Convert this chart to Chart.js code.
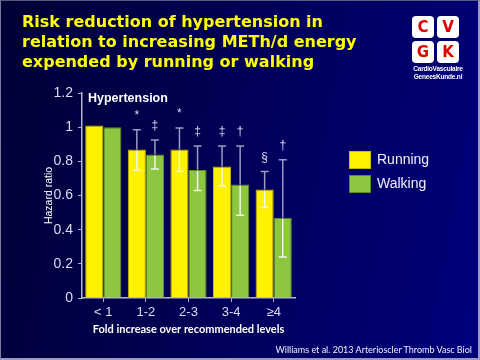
<!DOCTYPE html>
<html>
<head>
<meta charset="utf-8">
<script src="https://cdn.jsdelivr.net/npm/chart.js@4/dist/chart.umd.min.js"></script>
<style>
  html, body { margin: 0; padding: 0; width: 480px; height: 360px; overflow: hidden; }
  body { background: linear-gradient(100deg, #000036 0%, #00004e 35%, #000068 70%, #00007c 100%); position: relative; font-family: "Liberation Sans", Arial, sans-serif; }
  #frame { position: absolute; left: 0; top: 0; width: 477px; height: 357px; border-left: 1px solid #7a7aa0; border-top: 1px solid #5a5a80; border-right: 2px solid #9a9ac0; border-bottom: 2px solid #9a9ac0; box-sizing: content-box; pointer-events: none; }
  #wrap { position: absolute; left: 0; top: 0; width: 480px; height: 360px; }
  #title { position: absolute; left: 22px; top: 12px; color: #ffff00; font-family: "DejaVu Sans", Verdana, sans-serif; font-weight: bold; font-size: 16px; line-height: 20px; white-space: nowrap; }
  #logo { position: absolute; left: 412px; top: 16px; width: 50px; }
  .tile { position: absolute; width: 22px; height: 22px; background: #fff; border-radius: 4px; color: #e00000; font-family: "DejaVu Sans", Verdana, sans-serif; font-weight: bold; font-size: 15px; line-height: 22px; text-align: center; }
  #logotext { position: absolute; left: 410px; top: 65px; width: 56px; color: #fff; font-family: "Liberation Sans Narrow", "Liberation Sans", Arial, sans-serif; font-size: 6.5px; line-height: 8px; text-align: center; font-weight: bold; letter-spacing: -0.2px; }
  #legend { position: absolute; left: 349px; top: 151px; }
  .li { position: relative; height: 24px; }
  .sw { position: absolute; left: 0; top: 0; width: 20px; height: 16px; border: 1px solid; }
  .lt { position: absolute; left: 28px; top: -1px; color: #f0f0ff; font-size: 14px; line-height: 18px; white-space: nowrap; }
  #cite { position: absolute; right: 8px; top: 344px; color: #f0f0ff; font-family: Lato, "Liberation Sans", sans-serif; font-size: 9px; white-space: nowrap; }
</style>
</head>
<body>
<div id="wrap"><canvas id="c" width="480" height="360"></canvas></div>
<div id="title">Risk reduction of hypertension in<br>relation to increasing METh/d energy<br>expended by running or walking</div>
<div id="logo">
  <div class="tile" style="left:0;top:0">C</div>
  <div class="tile" style="left:25px;top:0">V</div>
  <div class="tile" style="left:0;top:25px">G</div>
  <div class="tile" style="left:25px;top:25px">K</div>
</div>
<div id="logotext">CardioVasculaire<br>GeneesKunde.nl</div>
<div id="legend"></div>
<div id="cite">Williams et al. 2013 Arterioscler Thromb Vasc Biol</div>
<div id="frame"></div>
<script>
// ---- data ----
const categories = ['< 1', '1-2', '2-3', '3-4', '≥4'];
const seriesNames = ['Running', 'Walking'];
const runningHR = [1.01, 0.87, 0.87, 0.77, 0.635];
const walkingHR = [1.00, 0.84, 0.75, 0.665, 0.47];
const runningLow = [1.01, 0.75, 0.74, 0.655, 0.53];
const runningHigh = [1.01, 0.985, 0.995, 0.89, 0.74];
const walkingLow = [1.00, 0.755, 0.63, 0.485, 0.24];
const walkingHigh = [1.00, 0.925, 0.89, 0.89, 0.81];
const runningMarks = ['', '*', '*', '‡', '§'];
const walkingMarks = ['', '‡', '‡', '†', '†'];
const yTickLabels = ['0', '0.2', '0.4', '0.6', '0.8', '1', '1.2'];
const panelLabel = 'Hypertension';
const xTitle = 'Fold increase over recommended levels';
const yTitle = 'Hazard ratio';

const colors = ['#fff200', '#8dc63f'];
const borders = ['#c8b800', '#5e8f26'];

const lows = [runningLow, walkingLow];
const highs = [runningHigh, walkingHigh];
const marks = [runningMarks, walkingMarks];

const errPlugin = {
  id: 'errbars',
  afterDatasetsDraw(chart) {
    const ctx = chart.ctx;
    const y = chart.scales.y;
    chart.data.datasets.forEach((ds, di) => {
      const meta = chart.getDatasetMeta(di);
      meta.data.forEach((bar, i) => {
        const lo = lows[di][i], hi = highs[di][i];
        const x = bar.x;
        const yTop = y.getPixelForValue(hi);
        const yBot = y.getPixelForValue(lo);
        const yBar = bar.y;
        if (Math.abs(yTop - yBot) > 1) {
          ctx.save();
          ctx.lineWidth = 1.5;
          ctx.strokeStyle = '#9a9ac4';
          ctx.beginPath();
          ctx.moveTo(x, yTop); ctx.lineTo(x, Math.min(yBar, yBot));
          ctx.moveTo(x - 4, yTop); ctx.lineTo(x + 4, yTop);
          ctx.stroke();
          ctx.strokeStyle = '#f4f4e8';
          ctx.beginPath();
          ctx.moveTo(x, yBar + 1); ctx.lineTo(x, yBot);
          ctx.moveTo(x - 4, yBot); ctx.lineTo(x + 4, yBot);
          ctx.stroke();
          ctx.restore();
        }
        const m = marks[di][i];
        if (m) {
          ctx.save();
          ctx.fillStyle = '#d8d8ec';
          ctx.font = '12px "Liberation Sans", Arial, sans-serif';
          ctx.textAlign = 'center';
          ctx.textBaseline = 'middle';
          ctx.fillText(m, x, yTop - 14);
          ctx.restore();
        }
      });
    });
    ctx.save();
    ctx.fillStyle = '#ffffff';
    ctx.font = 'bold 12.5px "Liberation Sans", Arial, sans-serif';
    ctx.textAlign = 'left';
    ctx.textBaseline = 'middle';
    ctx.fillText(panelLabel, chart.chartArea.left + 6, 99);
    ctx.restore();
  }
};

const chart = new Chart(document.getElementById('c'), {
  type: 'bar',
  data: {
    labels: categories,
    datasets: [
      { label: seriesNames[0], data: runningHR, backgroundColor: colors[0], borderColor: borders[0], borderWidth: 1 },
      { label: seriesNames[1], data: walkingHR, backgroundColor: colors[1], borderColor: borders[1], borderWidth: 1 }
    ]
  },
  options: {
    responsive: false,
    animation: false,
    events: [],
    layout: { padding: { top: 93, right: 185, left: 0, bottom: 0 } },
    datasets: { bar: { categoryPercentage: 0.85, barPercentage: 1.0 } },
    plugins: { legend: { display: false }, tooltip: { enabled: false }, title: { display: false } },
    scales: {
      x: {
        afterFit(s) { s.height = 62; },
        grid: { display: true, drawOnChartArea: false, offset: false, color: '#b4b4cc', tickLength: 4 },
        border: { display: true, color: '#b4b4cc', width: 1.5 },
        ticks: { color: '#dcdcec', font: { size: 13, family: '"Liberation Sans", Arial, sans-serif' }, padding: 3 },
        title: { display: true, text: xTitle, color: '#ffffff', font: { size: 11, weight: 'bold', family: 'Lato, "Liberation Sans", sans-serif' }, padding: { top: 0, bottom: 24 } }
      },
      y: {
        min: 0, max: 1.2,
        afterFit(s) { s.width = 82; },
        grid: { display: true, drawOnChartArea: false, color: '#b4b4cc', tickLength: 4 },
        border: { display: true, color: '#b4b4cc', width: 1.5 },
        ticks: {
          stepSize: 0.2,
          color: '#dcdcec',
          font: { size: 14, family: '"Liberation Sans", Arial, sans-serif' },
          padding: 5,
          callback: (v, i) => yTickLabels[i]
        },
        title: { display: true, text: yTitle, color: '#ffffff', font: { size: 10.5, family: '"Liberation Sans", Arial, sans-serif' }, padding: { top: 43, bottom: 0 } }
      }
    }
  },
  plugins: [errPlugin]
});

const leg = document.getElementById('legend');
chart.data.datasets.forEach((ds, i) => {
  const row = document.createElement('div');
  row.className = 'li';
  const sw = document.createElement('div');
  sw.className = 'sw';
  sw.style.background = ds.backgroundColor;
  sw.style.borderColor = ds.borderColor;
  const t = document.createElement('div');
  t.className = 'lt';
  t.textContent = ds.label;
  row.appendChild(sw); row.appendChild(t);
  leg.appendChild(row);
});
</script>
</body>
</html>
